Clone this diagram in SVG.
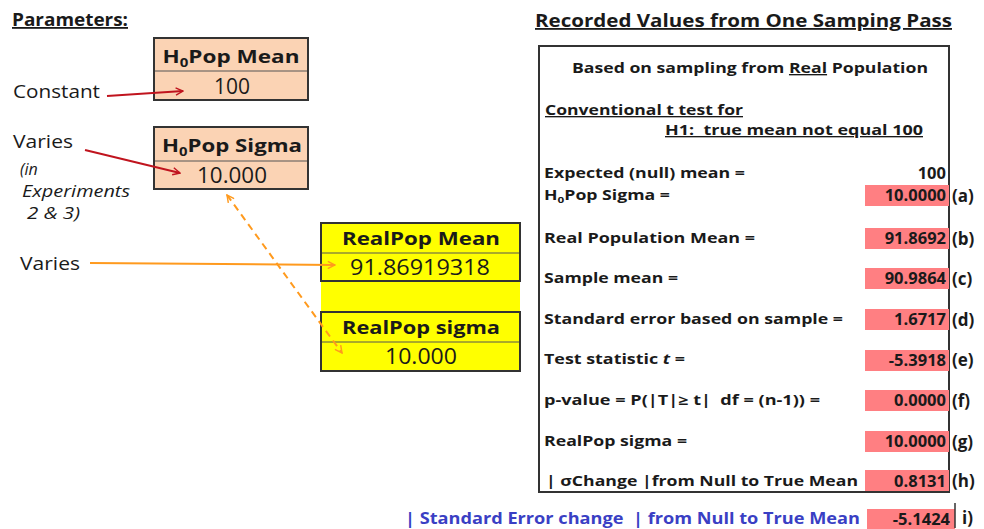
<svg xmlns="http://www.w3.org/2000/svg" width="984" height="529" viewBox="0 0 984 529">
<style>
text{font-family:"Open Sans","Noto Sans","Liberation Sans",sans-serif;fill:#1a1a1a;white-space:pre}
.ttl{font-size:18px;font-weight:bold;text-decoration:underline}
.hdr{font-size:18px;font-weight:bold;text-anchor:middle}
.val{font-size:21px;text-anchor:middle}
.lbl{font-size:19px}
.it{font-size:16px;font-style:italic}
.row{font-size:13.5px;font-weight:bold}
.num{font-size:16.5px;font-weight:bold;text-anchor:end}
.tag{font-size:17px;font-weight:bold}
.peach{fill:#FBD3B4;stroke:#333;stroke-width:2}
.yel{fill:#FFFF00;stroke:#333;stroke-width:2}
.div{stroke:#555;stroke-width:1}
.red{fill:#FF7F82}
.blue{fill:#3A3FC4}
</style>
<defs>
<marker id="ar" viewBox="0 0 10 10" refX="9" refY="5" markerWidth="9" markerHeight="9" markerUnits="userSpaceOnUse" orient="auto-start-reverse"><path d="M1,1 L9,5 L1,9" fill="none" stroke="#C0141E" stroke-width="1.6"/></marker>
<marker id="ao" viewBox="0 0 10 10" refX="9" refY="5" markerWidth="9" markerHeight="9" markerUnits="userSpaceOnUse" orient="auto-start-reverse"><path d="M1,1 L9,5 L1,9" fill="none" stroke="#FF9A1E" stroke-width="1.6"/></marker>
</defs>

<text id="t-params" x="12" y="26" class="ttl" textLength="116" lengthAdjust="spacingAndGlyphs">Parameters:</text>
<text id="t-recorded" x="535" y="27" class="ttl" textLength="417" lengthAdjust="spacingAndGlyphs">Recorded Values from One Samping Pass</text>

<g id="h0mean">
<rect x="154" y="38" width="154" height="62" class="peach"/>
<line x1="155" y1="71" x2="307" y2="71" class="div"/>
<text x="231" y="63" class="hdr" textLength="137" lengthAdjust="spacingAndGlyphs">H<tspan font-size="12" dy="4">0</tspan><tspan dy="-4">Pop Mean</tspan></text>
<text x="232" y="94" class="val">100</text>
</g>

<g id="h0sigma">
<rect x="154" y="127" width="154" height="62" class="peach"/>
<line x1="155" y1="161" x2="307" y2="161" class="div"/>
<text x="232" y="152" class="hdr" textLength="140" lengthAdjust="spacingAndGlyphs">H<tspan font-size="12" dy="4">0</tspan><tspan dy="-4">Pop Sigma</tspan></text>
<text x="232" y="183" class="val" textLength="70" lengthAdjust="spacingAndGlyphs">10.000</text>
</g>

<g id="realpop">
<rect x="321" y="223" width="199" height="148" fill="#FFFF00"/>
<rect x="321" y="223" width="199" height="58" class="yel"/>
<line x1="322" y1="253" x2="519" y2="253" class="div"/>
<text x="421" y="245" class="hdr" textLength="158" lengthAdjust="spacingAndGlyphs">RealPop Mean</text>
<text x="420" y="275" class="val" textLength="140" lengthAdjust="spacingAndGlyphs">91.86919318</text>
<rect x="321" y="312" width="199" height="59" class="yel"/>
<line x1="322" y1="342" x2="519" y2="342" class="div"/>
<text x="421" y="334" class="hdr" textLength="158" lengthAdjust="spacingAndGlyphs">RealPop sigma</text>
<text x="421" y="364" class="val" textLength="72" lengthAdjust="spacingAndGlyphs">10.000</text>
</g>

<g id="labels">
<text x="13" y="98" class="lbl" textLength="87" lengthAdjust="spacingAndGlyphs">Constant</text>
<text x="13" y="148" class="lbl" textLength="60" lengthAdjust="spacingAndGlyphs">Varies</text>
<text x="20" y="175" class="it">(in</text>
<text x="22" y="197" class="it" textLength="108" lengthAdjust="spacingAndGlyphs">Experiments</text>
<text x="27" y="219" class="it" textLength="53" lengthAdjust="spacingAndGlyphs">2 &amp; 3)</text>
<text x="20" y="270" class="lbl" textLength="60" lengthAdjust="spacingAndGlyphs">Varies</text>
</g>

<g id="connectors">
<line x1="107" y1="96" x2="183" y2="91" stroke="#C0141E" stroke-width="2" marker-end="url(#ar)"/>
<line x1="85" y1="150" x2="180" y2="173" stroke="#C0141E" stroke-width="2" marker-end="url(#ar)"/>
<line x1="90" y1="263" x2="335" y2="265" stroke="#FF9A1E" stroke-width="2" marker-end="url(#ao)"/>
<line x1="227" y1="195" x2="342" y2="353" stroke="#FF9A1E" stroke-width="2" stroke-dasharray="7,5" marker-start="url(#ao)" marker-end="url(#ao)"/>
</g>

<g id="results">
<rect x="539" y="46" width="410" height="446" fill="none" stroke="#333" stroke-width="2"/>
<text x="572" y="73" class="row" textLength="356" lengthAdjust="spacingAndGlyphs">Based on sampling from <tspan text-decoration="underline">Real</tspan> Population</text>
<text x="545" y="115" class="row" text-decoration="underline" textLength="198" lengthAdjust="spacingAndGlyphs">Conventional t test for</text>
<text x="665" y="135" class="row" text-decoration="underline" textLength="258" lengthAdjust="spacingAndGlyphs">H1:  true mean not equal 100</text>

<text x="544" y="178" class="row" textLength="201" lengthAdjust="spacingAndGlyphs">Expected (null) mean =</text>
<text x="946" y="179" class="num">100</text>

<rect x="865" y="185" width="84" height="21" class="red"/>
<text x="544" y="200" class="row" textLength="126" lengthAdjust="spacingAndGlyphs">H<tspan font-size="9" dy="3">0</tspan><tspan dy="-3">Pop Sigma =</tspan></text>
<text x="946" y="201" class="num">10.0000</text>
<text x="952" y="202" class="tag">(a)</text>

<rect x="865" y="228" width="84" height="21" class="red"/>
<text x="544" y="243" class="row" textLength="211" lengthAdjust="spacingAndGlyphs">Real Population Mean =</text>
<text x="946" y="244" class="num">91.8692</text>
<text x="952" y="245" class="tag">(b)</text>

<rect x="865" y="268" width="84" height="21" class="red"/>
<text x="544" y="283" class="row" textLength="134" lengthAdjust="spacingAndGlyphs">Sample mean =</text>
<text x="946" y="284" class="num">90.9864</text>
<text x="952" y="285" class="tag">(c)</text>

<rect x="865" y="309" width="84" height="21" class="red"/>
<text x="544" y="324" class="row" textLength="299" lengthAdjust="spacingAndGlyphs">Standard error based on sample =</text>
<text x="946" y="325" class="num">1.6717</text>
<text x="952" y="326" class="tag">(d)</text>

<rect x="865" y="350" width="84" height="21" class="red"/>
<text x="544" y="364" class="row" textLength="141" lengthAdjust="spacingAndGlyphs">Test statistic <tspan font-style="italic">t</tspan> =</text>
<text x="946" y="366" class="num">-5.3918</text>
<text x="952" y="366" class="tag">(e)</text>

<rect x="865" y="390" width="84" height="21" class="red"/>
<text x="544" y="405" class="row" textLength="276" lengthAdjust="spacingAndGlyphs">p-value = P(|T|≥ t|  df = (n-1)) =</text>
<text x="946" y="406" class="num">0.0000</text>
<text x="952" y="407" class="tag">(f)</text>

<rect x="865" y="431" width="84" height="21" class="red"/>
<text x="544" y="446" class="row" textLength="143" lengthAdjust="spacingAndGlyphs">RealPop sigma =</text>
<text x="946" y="447" class="num">10.0000</text>
<text x="952" y="448" class="tag">(g)</text>

<rect x="865" y="470" width="84" height="21" class="red"/>
<text x="546" y="486" class="row" textLength="312" lengthAdjust="spacingAndGlyphs">| σChange |from Null to True Mean</text>
<text x="946" y="487" class="num">0.8131</text>
<text x="952" y="487" class="tag">(h)</text>
</g>

<g id="bottom">
<text x="405" y="524" class="tag blue" style="font-size:16px" textLength="455" lengthAdjust="spacingAndGlyphs">| Standard Error change  | from Null to True Mean</text>
<rect x="867" y="509" width="88" height="20" class="red"/>
<line x1="955" y1="503" x2="955" y2="528" stroke="#333" stroke-width="1.5"/>
<text x="950" y="525" class="num">-5.1424</text>
<text x="962" y="524" class="tag">i)</text>
</g>
</svg>
